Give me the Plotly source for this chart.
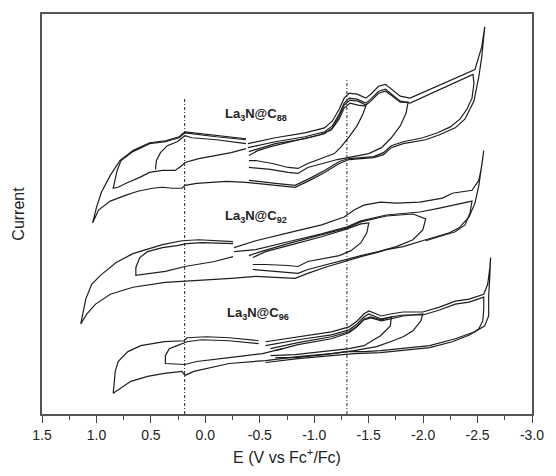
import plotly.graph_objects as go

# ---------------- data (E in V vs Fc+/Fc, current in arbitrary units) ----------------
# La3N@C88
c88_outer_E = [-0.391,-0.643,-0.914,-1.095,-1.167,-1.230,-1.275,-1.320,-1.393,-1.474,-1.519,-1.591,-1.654,-1.699,-1.790,-1.880,-2.060,-2.268,-2.476,-2.539,-2.566,
               -2.539,-2.512,-2.467,-2.385,-2.295,-2.151,-2.024,-1.817,-1.708,-1.636,-1.546,-1.320,-1.230,-1.095,-0.959,-0.824,-0.734,-0.643,-0.373,-0.192,0.079,0.187,0.214,0.304,0.394,0.485,0.620,0.728,0.873,0.981,1.035,
               0.999,0.954,0.873,0.783,0.665,0.512,0.367,0.241,0.187,-0.102,-0.373]
c88_outer_I = [273,279,284,289,296,308,319,324,323,319,323,331,333,329,321,319,328,338,348,371,391,
               361,341,316,298,289,282,277,273,269,262,259,257,253,244,236,229,230,231,234,235,233,231,228,228,229,228,225,221,215,206,193,
               209,224,241,256,266,274,276,280,285,281,278]
c88_outer2_E = [-0.391,-0.643,-0.914,-1.095,-1.167,-1.230,-1.275,-1.320,-1.393,-1.474,-1.519,-1.591,-1.654,-1.699,-1.790,-1.880,-2.060,-2.268,-2.458,
                -2.467,-2.449,-2.403,-2.340,-2.250,-2.133,-1.997,-1.817,-1.708,-1.636,-1.546,-1.320,-1.230,-1.095,-0.959,-0.824,-0.643,-0.400]
c88_outer2_I = [269,275,280,285,291,303,314,319,318,314,318,326,328,324,316,314,323,333,343,
                334,319,308,298,290,284,279,275,271,264,260,258,255,246,238,231,233,236]
c88_loopA_E = [-0.400,-0.481,-0.598,-0.824,-1.050,-1.158,-1.230,-1.275,-1.329,-1.402,-1.474,
               -1.447,-1.393,-1.320,-1.248,-1.185,-1.068,-0.941,-0.851,-0.761,-0.616,-0.463,-0.400]
c88_loopA_I = [261,266,270,276,282,287,298,309,314,312,311,
               303,291,280,270,263,258,253,248,249,253,256,256]
c88_loopB_E = [-0.400,-0.643,-0.914,-1.095,-1.167,-1.230,-1.275,-1.329,-1.402,-1.474,-1.519,-1.591,-1.654,-1.708,-1.790,-1.862,
               -1.844,-1.790,-1.708,-1.618,-1.501,-1.366,-1.212,-1.077,-0.941,-0.851,-0.761,-0.598,-0.400]
c88_loopB_I = [265,273,278,283,289,301,312,317,316,312,316,324,326,322,315,315,
               304,291,279,269,263,260,257,253,249,243,244,247,249]
c88_left1_E = [-0.373,-0.102,0.187,0.241,0.367,0.512,0.665,0.774,0.810,0.827,0.846,0.801,0.728,0.602,0.512,0.394,0.277,0.214,0.187,0.060,-0.084,-0.237,-0.373]
c88_left1_I = [277,280,284,279,275,273,265,256,246,236,228,229,233,239,244,246,246,251,254,258,261,264,268]
c88_left2_E = [-0.373,-0.102,0.124,0.187,0.259,0.349,0.412,0.449,0.458]
c88_left2_I = [273,277,279,281,275,271,264,256,247]

# La3N@C92
c92_outer_E = [-0.264,-0.463,-0.761,-1.068,-1.275,-1.366,-1.456,-1.609,-1.754,-1.970,-2.178,-2.268,-2.449,-2.512,-2.539,-2.557,
               -2.539,-2.512,-2.476,-2.422,-2.331,-2.241,-2.024,-1.817,-1.663,-1.573,-1.429,-1.302,-1.095,-0.941,-0.824,-0.643,-0.463,-0.237,0.060,0.367,0.665,0.873,1.008,1.089,1.144,
               1.125,1.098,1.044,0.963,0.819,0.665,0.394,0.214,0.060,-0.255]
c92_outer_I = [168,175,183,191,199,206,211,214,213,214,218,223,226,236,251,266,
               254,231,213,199,188,183,176,169,166,163,159,155,148,142,137,138,139,137,135,133,128,121,111,101,91,
               103,116,131,140,153,162,171,175,176,174]
c92_outer2_E = [-0.264,-0.463,-0.761,-1.068,-1.302,-1.429,-1.663,-1.970,-2.151,-2.331,-2.449,
                -2.431,-2.385,-2.295,-2.133,-2.024]
c92_outer2_I = [164,166,174,182,189,195,201,204,208,212,215,
                203,191,184,179,175]
c92_loopA_E = [-0.436,-0.553,-0.761,-1.068,-1.302,-1.429,-1.501,
               -1.483,-1.429,-1.338,-1.230,-1.095,-0.941,-0.851,-0.761,-0.553,-0.436]
c92_loopA_I = [158,164,170,179,187,192,193,
               183,173,165,160,157,154,149,150,151,151]
c92_loopB_E = [-0.400,-0.508,-0.761,-1.068,-1.302,-1.429,-1.663,-1.907,-2.024,
               -1.997,-1.907,-1.754,-1.591,-1.429,-1.230,-1.095,-0.941,-0.851,-0.761,-0.553,-0.436]
c92_loopB_I = [160,164,172,181,188,194,200,202,197,
               186,176,169,164,160,154,150,146,142,143,145,146]
c92_left_E = [-0.255,0.033,0.169,0.259,0.394,0.530,0.602,0.638,0.638,0.367,0.187,-0.084,-0.255]
c92_left_I = [172,173,172,170,168,164,158,148,140,144,149,154,159]

# La3N@C96
c96_outer_E = [-0.553,-0.851,-1.158,-1.320,-1.393,-1.456,-1.501,-1.573,-1.618,-1.699,-1.817,-1.997,-2.151,-2.295,-2.422,-2.557,-2.593,-2.611,-2.620,
               -2.611,-2.602,-2.602,-2.566,-2.476,-2.295,-2.060,-1.817,-1.609,-1.456,-1.302,-1.158,-0.851,-0.553,-0.219,0.106,0.187,0.214,0.376,0.530,0.684,0.846,
               0.827,0.801,0.711,0.593,0.376,0.196,0.169,-0.012,-0.219,-0.490]
c96_outer_I = [73,78,83,88,94,101,104,101,99,101,103,103,108,114,116,121,131,146,158,
               136,119,99,89,83,76,69,66,64,63,63,61,58,54,51,43,39,43,41,38,33,21,
               43,53,63,69,73,74,77,78,77,74]
c96_outer2_E = [-0.553,-0.851,-1.158,-1.320,-1.393,-1.456,-1.501,-1.573,-1.618,-1.699,-1.817,-1.997,-2.151,-2.295,-2.422,-2.557,
                -2.557,-2.548,-2.512,-2.431,-2.268,-2.060,-1.817,-1.609,-1.366,-1.158,-0.851,-0.553]
c96_outer2_I = [69,75,80,85,91,98,101,98,96,98,100,100,105,111,113,118,
                106,94,86,80,73,67,64,62,61,59,56,52]
c96_loopA_E = [-0.598,-0.851,-1.158,-1.320,-1.393,-1.456,-1.519,-1.618,-1.708,
               -1.699,-1.609,-1.519,-1.456,-1.320,-1.095,-0.824,-0.598]
c96_loopA_I = [66,72,78,83,89,96,98,95,98,
               89,79,73,69,66,63,60,59]
c96_loopB_E = [-0.643,-0.851,-1.158,-1.320,-1.393,-1.456,-1.519,-1.618,-1.699,-1.817,-1.997,
               -1.979,-1.907,-1.817,-1.699,-1.573,-1.366,-1.095,-0.824,-0.643]
c96_loopB_I = [64,70,76,82,88,95,97,94,96,99,101,
               94,84,78,73,68,64,60,57,57]
c96_left_E = [-0.490,-0.219,0.033,0.169,0.259,0.331,0.367,0.367,0.187,0.079,-0.219,-0.526,-0.707]
c96_left_I = [71,74,75,73,69,66,59,51,50,53,57,61,66]

# reference potentials (dash-dot markers)
ref_E = [0.19, -1.30]
ref_top_I = [319, 339]

labels = ["La<sub>3</sub>N@C<sub>88</sub>", "La<sub>3</sub>N@C<sub>92</sub>", "La<sub>3</sub>N@C<sub>96</sub>"]
label_E = [-0.463, -0.463, -0.481]
label_I = [303, 199, 102]

tick_vals = [1.5, 1.0, 0.5, 0.0, -0.5, -1.0, -1.5, -2.0, -2.5, -3.0]
tick_text = ["1.5", "1.0", "0.5", "0.0", "-0.5", "-1.0", "-1.5", "-2.0", "-2.5", "-3.0"]

# ---------------- figure ----------------
curves = [
    (c88_outer_E, c88_outer_I), (c88_outer2_E, c88_outer2_I), (c88_loopA_E, c88_loopA_I),
    (c88_loopB_E, c88_loopB_I), (c88_left1_E, c88_left1_I), (c88_left2_E, c88_left2_I),
    (c92_outer_E, c92_outer_I), (c92_outer2_E, c92_outer2_I), (c92_loopA_E, c92_loopA_I),
    (c92_loopB_E, c92_loopB_I), (c92_left_E, c92_left_I),
    (c96_outer_E, c96_outer_I), (c96_outer2_E, c96_outer2_I), (c96_loopA_E, c96_loopA_I),
    (c96_loopB_E, c96_loopB_I), (c96_left_E, c96_left_I),
]

fig = go.Figure()
for ex, iy in curves:
    fig.add_trace(go.Scatter(x=ex, y=iy, mode="lines",
                             line=dict(color="#1e1e1e", width=1.2),
                             showlegend=False, hoverinfo="skip"))

for e, top in zip(ref_E, ref_top_I):
    fig.add_trace(go.Scatter(x=[e, e], y=[0, top], mode="lines",
                             line=dict(color="#222222", width=1, dash="3px,2px,1px,2px"),
                             showlegend=False, hoverinfo="skip"))

for txt, e, i in zip(labels, label_E, label_I):
    fig.add_annotation(x=e, y=i, text="<b>" + txt + "</b>", showarrow=False,
                       font=dict(family="Arial, Liberation Sans", size=13, color="#222222"))

fig.update_layout(
    width=556, height=476,
    margin=dict(l=42, r=15, t=12, b=60),
    paper_bgcolor="white", plot_bgcolor="white",
    font=dict(family="Arial, Liberation Sans", color="#222222"),
)
fig.update_xaxes(
    range=[1.5, -3.0], tickvals=tick_vals, ticktext=tick_text,
    ticks="outside", ticklen=7, tickwidth=1.3, tickcolor="#444444",
    minor=dict(tickvals=[1.25, 0.75, 0.25, -0.25, -0.75, -1.25, -1.75, -2.25, -2.75],
               ticks="outside", ticklen=4, tickwidth=1.3, tickcolor="#444444"),
    showline=True, linecolor="#555555", linewidth=1.5, mirror=True,
    showgrid=False, zeroline=False,
    tickfont=dict(size=14, color="#222222"),
    title=dict(text="E (V vs Fc<sup>+</sup>/Fc)", font=dict(size=16, color="#222222"), standoff=10),
)
fig.update_yaxes(
    range=[0, 404], showticklabels=False, ticks="",
    showline=True, linecolor="#555555", linewidth=1.5, mirror=True,
    showgrid=False, zeroline=False,
    title=dict(text="Current", font=dict(size=16, color="#222222"), standoff=12),
)

fig.write_html("out.html")
